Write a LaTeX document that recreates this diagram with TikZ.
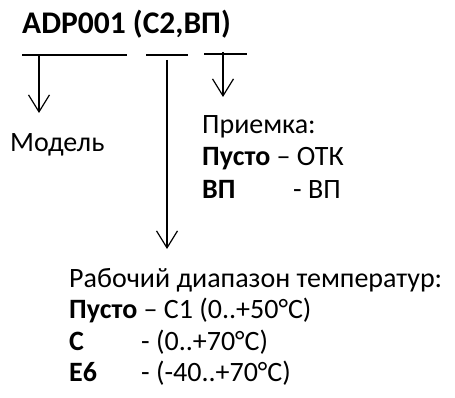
\documentclass[tikz,border=0pt]{standalone}
\usepackage{fontspec}
\setmainfont{Carlito}
\usetikzlibrary{arrows.meta}
\begin{document}
\begin{tikzpicture}[x=1pt,y=-1pt,
  txt/.style={anchor=base west,inner sep=0pt,font=\fontsize{28}{34}\selectfont},
  ttl/.style={anchor=base west,inner sep=0pt,font=\fontsize{31.5}{38}\selectfont\bfseries},
  bar/.style={line width=1.8pt},
  arr/.style={line width=1.2pt,-{Straight Barb[length=17pt,width=21pt,line width=1.2pt]}}]
\useasboundingbox (0,0) rectangle (455,398);
\node[ttl] (title) at (22,34) {ADP001 (C2,ВП)};
% bars
\coordinate (l1) at (22,55);  \coordinate (l2) at (127,55);
\coordinate (m1) at (146,55); \coordinate (m2) at (188,55);
\coordinate (r1) at (204,54); \coordinate (r2) at (247,54);
\draw[bar] (l1) -- (l2);
\draw[bar] (m1) -- (m2);
\draw[bar] (r1) -- (r2);
% arrows
\coordinate (la) at (39,55);  \coordinate (lt) at (39,113);
\coordinate (ma) at (167,60); \coordinate (mt) at (167,249);
\coordinate (ra) at (223,52); \coordinate (rt) at (223,97);
\draw[arr] (la) -- (lt);
\draw[arr] (ma) -- (mt);
\draw[arr] (ra) -- (rt);
% texts
\node[txt] (model) at (10,152) {Модель};
\node[txt] (pr1) at (202,134) {Приемка:};
\node[txt] (pr2) at (202,166) {\textbf{Пусто} – ОТК};
\node[txt] (pr3) at (202,199) {\textbf{ВП}};
\node[txt] (pr3b) at (293,199) {- ВП};
\node[txt] (t1) at (69,287) {Рабочий диапазон температур:};
\node[txt] (t2) at (69,318) {\textbf{Пусто} – C1 (0..+50°C)};
\node[txt] (t3) at (69,350) {\textbf{C}};
\node[txt] (t3b) at (141,350) {- (0..+70°C)};
\node[txt] (t4) at (69,381) {\textbf{E6}};
\node[txt] (t4b) at (141,381) {- (-40..+70°C)};
\end{tikzpicture}
\end{document}
